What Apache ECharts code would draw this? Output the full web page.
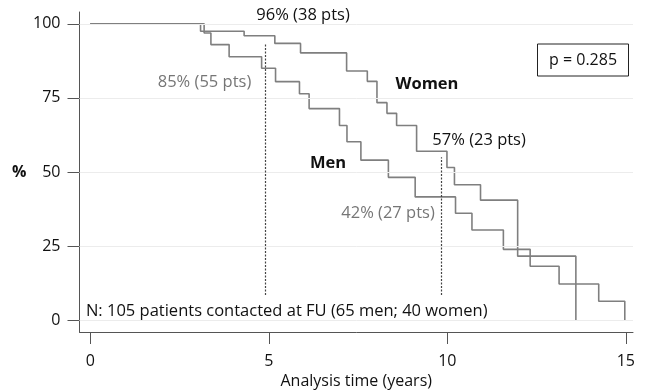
<!DOCTYPE html>
<html>
<head>
<meta charset="utf-8">
<script src="https://cdn.jsdelivr.net/npm/echarts@6/dist/echarts.min.js"></script>
<style>
html,body{margin:0;padding:0;background:#fff;}
#chart{width:647px;height:390px;}
</style>
</head>
<body>
<div id="chart"></div>
<script>
// ---- data ----
const womenTimes  = [0, 3.09, 4.31, 5.17, 5.89, 7.18, 7.76, 8.03, 8.31, 8.58, 9.14, 9.99, 10.20, 10.93, 11.97, 13.60];
const womenValues = [100, 97.5, 96, 93.4, 90.2, 84.1, 80.6, 73.4, 69.8, 65.7, 57, 51.5, 45.7, 40.5, 21.6, 0];
const menTimes  = [0, 3.19, 3.38, 3.89, 4.80, 5.19, 5.86, 6.13, 6.98, 7.19, 7.58, 8.35, 9.10, 10.23, 10.69, 11.57, 12.32, 13.13, 14.24, 14.97];
const menValues = [100, 96.9, 93.0, 88.9, 85.0, 80.5, 76.4, 71.4, 65.7, 60.2, 54.0, 48.2, 41.6, 36.1, 30.4, 23.9, 18.2, 12.2, 6.4, 0];
const xTicks = [0, 5, 10, 15];
const yTicks = [0, 25, 50, 75, 100];
// reference (dotted) lines: time, top value
const refTimes = [4.895, 9.82];
const refTops = [93.2, 55.0];
const refBottom = 8.5;
// annotation texts and their anchors (data space)
const annTexts = ['96% (38 pts)', '85% (55 pts)', 'Women', 'Men', '57% (23 pts)', '42% (27 pts)'];
const annAnchors = [[5.96, 103.0], [3.20, 80.4], [9.43, 79.7], [6.66, 53.0], [10.89, 60.8], [8.34, 36.1]];
const annKinds = ['black', 'gray', 'bold', 'bold', 'black', 'gray'];
const noteText = 'N: 105 patients contacted at FU (65 men; 40 women)';
const noteAnchor = [-0.12, 3.1];
const pText = 'p = 0.285';
const pAnchor = [13.8, 87.8];

const FONT = '"Open Sans", "Noto Sans", sans-serif';
const CURVE = '#7f7f7f';

function pairs(ts, vs) { return ts.map((t, i) => [t, vs[i]]); }

const chart = echarts.init(document.getElementById('chart'), null, {renderer: 'canvas'});

const option = {
  animation: false,
  backgroundColor: '#ffffff',
  grid: {left: 79.5, right: 14, top: 12, bottom: 58, containLabel: false, outerBoundsMode: 'none'},
  xAxis: {
    type: 'value', min: -0.3, max: 15.2,
    axisLine: {show: true, onZero: false, lineStyle: {color: '#555', width: 1}},
    axisTick: {show: true, customValues: xTicks, length: 12, lineStyle: {color: '#555', width: 1}},
    axisLabel: {show: true, customValues: xTicks, margin: 21, fontSize: 16, color: '#111', fontFamily: FONT},
    splitLine: {show: false},
    name: 'Analysis time (years)', nameLocation: 'middle', nameGap: 37,
    nameTextStyle: {fontSize: 16, color: '#111', fontFamily: FONT}
  },
  yAxis: {
    type: 'value', min: -4, max: 104,
    axisLine: {show: true, onZero: false, lineStyle: {color: '#555', width: 1}},
    axisTick: {show: true, customValues: yTicks, length: 12, lineStyle: {color: '#555', width: 1}},
    axisLabel: {show: true, customValues: yTicks, margin: 19, fontSize: 16, color: '#111', fontFamily: FONT},
    splitLine: {show: false},
    name: '%', nameLocation: 'middle', nameGap: 53, nameRotate: 0,
    nameTextStyle: {fontSize: 16, fontWeight: 'bold', color: '#111', fontFamily: FONT}
  },
  series: [
    {
      type: 'line', name: 'grid', data: [], silent: true, z: 1,
      markLine: {
        silent: true, symbol: ['none', 'none'], label: {show: false},
        lineStyle: {color: '#ececec', width: 1, type: 'solid'},
        data: yTicks.map(v => ({yAxis: v}))
      }
    },
    {
      type: 'line', name: 'Women', step: 'end', showSymbol: false, z: 3,
      data: pairs(womenTimes, womenValues),
      lineStyle: {color: CURVE, width: 1.6}
    },
    {
      type: 'line', name: 'Men', step: 'end', showSymbol: false, z: 3,
      data: pairs(menTimes, menValues),
      lineStyle: {color: CURVE, width: 1.6},
      markLine: {
        silent: true, symbol: ['none', 'none'], label: {show: false},
        lineStyle: {color: '#444', width: 1.2, type: [2, 1.5]},
        data: refTimes.map((t, i) => [{coord: [t, refBottom]}, {coord: [t, refTops[i]]}])
      }
    }
  ]
};
chart.setOption(option);

function px(p) { return chart.convertToPixel({gridIndex: 0}, p); }

const graphics = [];
annTexts.forEach((txt, i) => {
  const p = px(annAnchors[i]);
  const k = annKinds[i];
  graphics.push({
    type: 'text', x: p[0], y: p[1], z: 10,
    style: {
      text: txt, align: 'center', verticalAlign: 'middle',
      font: (k === 'bold' ? 'bold ' : '') + '16.5px ' + FONT,
      fill: k === 'gray' ? '#767676' : '#111'
    }
  });
});
const np = px(noteAnchor);
graphics.push({
  type: 'text', x: np[0], y: np[1], z: 10,
  style: {text: noteText, align: 'left', verticalAlign: 'middle', font: '16.5px ' + FONT, fill: '#111'}
});
const pp = px(pAnchor);
graphics.push({
  type: 'rect', x: pp[0] - 45.5, y: pp[1] - 16, z: 9,
  shape: {width: 91, height: 32},
  style: {fill: '#fff', stroke: '#222', lineWidth: 1}
});
graphics.push({
  type: 'text', x: pp[0], y: pp[1], z: 10,
  style: {text: pText, align: 'center', verticalAlign: 'middle', font: '16px ' + FONT, fill: '#111'}
});
chart.setOption({graphic: graphics});
</script>
</body>
</html>
